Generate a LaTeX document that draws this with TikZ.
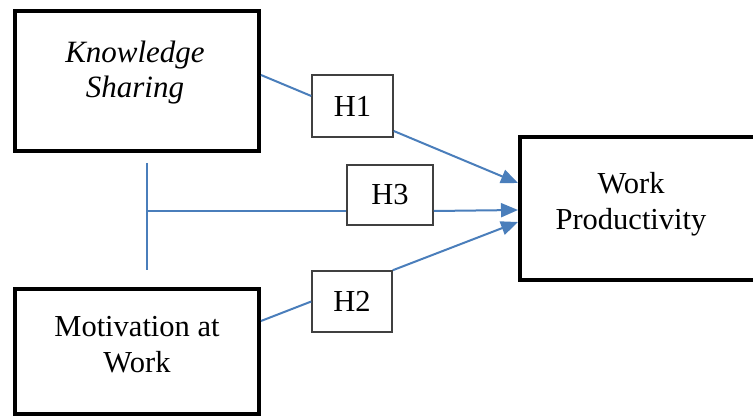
\documentclass[tikz,border=0pt]{standalone}
\usepackage{fontspec}
\setmainfont{Liberation Serif}
\usetikzlibrary{arrows.meta,calc}
\definecolor{linkblue}{RGB}{74,126,187}
\definecolor{hbox}{RGB}{64,64,64}
\begin{document}
\begin{tikzpicture}[x=1pt,y=-1pt,
  bigbox/.style={draw=black,line width=4pt,fill=white,inner sep=0pt,minimum width=244pt,minimum height=140pt},
  hyp/.style={draw=hbox,line width=1.5pt,fill=white,inner sep=0pt,font=\fontsize{30.5}{36}\selectfont},
  lbl/.style={align=center,inner sep=0pt,font=\fontsize{30.5}{36}\selectfont},
  link/.style={draw=linkblue,line width=2pt},
  arr/.style={link,-{Triangle[length=17pt,width=14pt]}}]
\useasboundingbox (0,0) rectangle (753,417);
\clip (0,0) rectangle (753,417);
% main boxes
\node[bigbox] (ks) at (137,81) {};
\node[bigbox,minimum height=125pt] (mw) at (137,351.5) {};
\node[bigbox,minimum width=260pt,minimum height=143pt] (wp) at (650,208.5) {};
% texts
\node[lbl,font=\fontsize{31}{35}\selectfont\itshape] (kst) at (135,73) {Knowledge\\Sharing};
\node[lbl] (mwt) at (137,345) {Motivation at\\Work};
\node[lbl] (wpt) at (631,204) {Work\\Productivity};
% hypothesis boxes
\node[hyp,minimum width=81pt,minimum height=62pt] (h1) at (352.5,106) {H1};
\node[hyp,minimum width=86pt,minimum height=60pt] (h3) at (390,195) {H3};
\node[hyp,minimum width=80pt,minimum height=61pt] (h2) at (352,301.5) {H2};
% bracket
\coordinate (vtop) at (147,163);
\coordinate (vbot) at (147,270);
\coordinate (vmid) at (147,211);
\draw[link] (vtop) -- (vbot);
% connectors
\draw[link] ([yshift=6pt]ks.east) -- ([yshift=10pt]h1.west);
\draw[arr] ([yshift=-25pt]h1.east) -- ([yshift=25.5pt]wp.west);
\draw[link] (vmid) -- ([yshift=-16pt]h3.west);
\draw[arr] ([yshift=-16pt]h3.east) -- ([yshift=-1.5pt]wp.west);
\draw[link] ([yshift=30.5pt]mw.east) -- (h2.west);
\draw[arr] (h2.north east) -- ([yshift=-13.5pt]wp.west);
\end{tikzpicture}
\end{document}
